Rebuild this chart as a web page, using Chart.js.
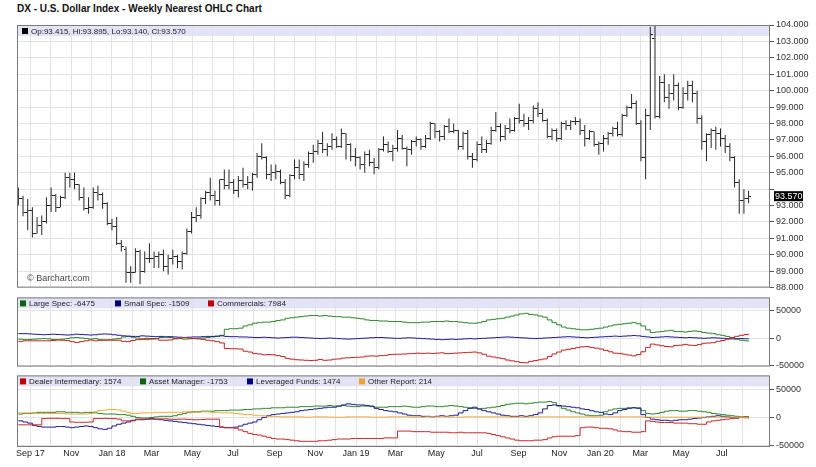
<!DOCTYPE html>
<html>
<head>
<meta charset="utf-8">
<script src="https://cdn.jsdelivr.net/npm/chart.js@4.4.1/dist/chart.umd.min.js"></script>
<style>
  body { margin: 0; background: #fff; width: 816px; height: 467px; overflow: hidden; font-family: "Liberation Sans", Arial, sans-serif; }
  #title { position: absolute; left: 17px; top: 3px; font-size: 10px; font-weight: bold; color: #111; }
  canvas { position: absolute; left: 0; }
</style>
</head>
<body>
<div id="title">DX - U.S. Dollar Index - Weekly Nearest OHLC Chart</div>
<canvas id="price" width="816" height="281" style="top:14px"></canvas>
<canvas id="cot" width="816" height="84" style="top:290px"></canvas>
<canvas id="tff" width="816" height="99" style="top:368px"></canvas>
<script>
// weekly bars, first week starts Mon 14 Aug 2017
const firstWeek = Date.UTC(2017, 7, 14)

const opens = [
  93.3, 93.4, 92.6, 92.7, 91.3, 91.8, 92.0, 93.0, 93.6, 92.9,
  93.5, 94.7, 94.6, 94.3, 93.5, 92.8, 92.9, 93.8, 93.7, 93.1,
  91.9, 91.7, 90.7, 90.3, 88.9, 88.9, 90.2, 89.0, 89.8, 89.8,
  89.9, 90.0, 89.3, 89.8, 89.9, 89.6, 90.1, 91.4, 92.3, 92.4,
  93.4, 93.8, 93.6, 93.3, 94.6, 94.2, 94.4, 93.9, 94.5, 94.3,
  94.4, 94.9, 96.0, 95.9, 94.9, 95.0, 95.1, 94.4, 93.6, 94.8,
  95.3, 94.9, 95.5, 96.2, 96.3, 96.8, 96.4, 96.6, 97.0, 96.6,
  97.4, 96.7, 96.0, 95.9, 95.5, 96.1, 95.6, 95.3, 96.4, 96.7,
  96.3, 96.5, 97.1, 96.5, 96.4, 96.9, 97.0, 96.6, 97.1, 98.0,
  97.5, 97.2, 97.8, 97.5, 97.6, 96.6, 97.4, 96.0, 95.8, 96.7,
  96.4, 96.8, 97.6, 97.8, 97.2, 97.7, 97.6, 98.3, 98.2, 98.0,
  98.2, 98.9, 98.6, 98.2, 97.2, 97.6, 97.1, 98.0, 97.9, 98.1,
  98.1, 97.6, 97.1, 97.5, 96.7, 96.8, 97.1, 97.4, 97.7, 97.3,
  98.5, 99.0, 99.2, 98.0, 95.9, 98.5, 103.2, 98.4, 100.5, 99.6,
  99.8, 100.3, 99.0, 99.8, 100.3, 99.8, 98.3, 96.9, 97.3, 97.6,
  97.4, 97.1, 96.6, 95.9, 94.4, 93.3, 93.415
]
const highs = [
  94.1, 93.6, 93.4, 92.9, 92.3, 92.4, 93.5, 94.1, 93.7, 93.6,
  95.0, 95.0, 95.0, 94.3, 94.1, 93.5, 94.1, 94.2, 93.8, 93.2,
  92.2, 92.3, 90.9, 90.5, 89.3, 90.4, 90.3, 90.2, 90.7, 90.2,
  90.2, 90.3, 90.0, 90.3, 90.0, 90.2, 91.6, 92.6, 92.9, 93.5,
  93.9, 94.7, 93.9, 94.6, 95.2, 95.2, 94.6, 94.8, 95.3, 94.8,
  95.0, 96.2, 96.8, 96.0, 95.5, 95.5, 95.2, 94.6, 94.9, 95.8,
  95.8, 95.7, 96.3, 96.7, 97.0, 97.5, 96.8, 97.4, 97.2, 97.7,
  97.4, 96.8, 96.5, 96.0, 96.3, 96.4, 95.9, 96.5, 97.2, 96.9,
  96.7, 97.6, 97.3, 96.6, 97.0, 97.2, 97.1, 97.3, 98.1, 98.0,
  97.6, 97.9, 98.3, 98.0, 97.6, 97.5, 97.6, 96.2, 96.9, 97.2,
  97.0, 97.8, 98.7, 98.0, 97.9, 98.3, 98.4, 99.2, 98.6, 98.4,
  99.1, 99.3, 98.9, 98.3, 97.7, 97.7, 98.1, 98.2, 98.2, 98.4,
  98.3, 97.9, 97.6, 97.5, 96.9, 97.3, 97.5, 97.8, 98.1, 98.6,
  99.1, 99.8, 99.4, 98.2, 98.9, 103.9, 104.0, 100.9, 101.0, 100.4,
  101.0, 100.5, 100.2, 100.6, 100.6, 100.0, 98.5, 97.4, 97.7, 97.8,
  97.7, 97.3, 96.8, 96.0, 94.6, 94.0, 93.895
]
const lows = [
  93.0, 92.35, 91.5, 91.05, 91.3, 91.2, 91.9, 92.6, 92.6, 92.9,
  93.4, 94.1, 94.0, 93.3, 92.7, 92.5, 92.8, 93.3, 92.8, 91.8,
  91.5, 90.6, 90.2, 88.3, 88.3, 88.9, 88.2, 88.9, 89.5, 89.2,
  89.2, 89.0, 88.8, 89.4, 89.2, 89.1, 90.0, 91.3, 92.0, 92.2,
  93.1, 93.3, 93.0, 93.0, 94.0, 94.0, 93.7, 93.5, 94.1, 94.0,
  93.9, 94.7, 95.8, 94.6, 94.5, 94.6, 94.3, 93.4, 93.5, 94.6,
  94.6, 94.5, 95.3, 95.6, 96.1, 96.2, 96.0, 96.4, 96.5, 96.5,
  95.8, 95.7, 95.4, 95.2, 95.0, 95.4, 94.9, 95.2, 96.3, 96.2,
  95.7, 96.3, 96.4, 95.4, 96.1, 96.6, 96.4, 96.5, 97.0, 97.1,
  96.9, 97.0, 97.4, 97.4, 96.4, 96.4, 95.8, 95.3, 95.7, 96.2,
  96.2, 96.7, 97.5, 96.9, 97.0, 97.4, 97.5, 98.0, 97.8, 97.6,
  98.0, 98.4, 98.1, 97.1, 97.0, 96.9, 97.0, 97.6, 97.6, 97.9,
  97.3, 96.6, 97.0, 96.6, 96.1, 96.3, 96.7, 97.2, 97.2, 97.2,
  98.4, 98.9, 97.9, 95.7, 94.6, 97.6, 98.3, 98.3, 99.3, 98.9,
  99.4, 98.8, 98.9, 99.4, 99.3, 98.0, 96.4, 95.7, 96.5, 96.4,
  96.6, 96.2, 95.7, 94.1, 92.5, 92.5, 93.14
]
const closes = [
  93.4, 92.6, 92.7, 91.3, 91.8, 92.0, 93.0, 93.6, 92.9, 93.5,
  94.7, 94.6, 94.3, 93.5, 92.8, 92.9, 93.8, 93.7, 93.1, 91.9,
  91.7, 90.7, 90.5, 88.9, 88.9, 90.2, 89.0, 89.8, 89.8, 89.9,
  90.0, 89.3, 89.8, 89.9, 89.6, 90.1, 91.4, 92.3, 92.4, 93.4,
  93.8, 93.6, 93.3, 94.6, 94.2, 94.4, 93.9, 94.5, 94.3, 94.4,
  94.9, 96.0, 95.9, 94.9, 95.0, 95.1, 94.4, 93.6, 94.8, 95.3,
  94.9, 95.5, 96.2, 96.3, 96.8, 96.4, 96.6, 97.0, 96.6, 97.4,
  96.7, 96.0, 95.9, 95.5, 96.1, 95.6, 95.3, 96.4, 96.7, 96.3,
  96.5, 97.1, 96.5, 96.4, 96.9, 97.0, 96.6, 97.1, 98.0, 97.5,
  97.2, 97.8, 97.5, 97.6, 96.6, 97.4, 96.0, 95.8, 96.7, 96.4,
  96.8, 97.6, 97.8, 97.2, 97.7, 97.6, 98.3, 98.2, 98.0, 98.2,
  98.9, 98.6, 98.2, 97.2, 97.6, 97.1, 98.0, 97.9, 98.1, 98.1,
  97.6, 97.1, 97.5, 96.7, 96.8, 97.1, 97.4, 97.7, 97.3, 98.5,
  99.0, 99.2, 98.0, 95.9, 98.5, 103.4, 98.4, 100.5, 99.6, 99.8,
  100.3, 99.0, 99.8, 100.3, 99.8, 98.3, 96.9, 97.3, 97.6, 97.4,
  97.1, 96.6, 95.9, 94.4, 93.3, 93.4, 93.57
]

// COT net positions, thousands of contracts, one value per week
const largeSpec = [
  -2, -3, -2.5, -2, -1.5, -1, -1.5, -2.5, -3, -2, -1, 0.5, 1, 0, -1, -2, -1, -3, -4, -3.5,
  -2, -1, 2, 3, 1.5, 0, -1.5, -3, -2, -1, 1, 2, 1, -0.5, -1, -2, -1.5, -1, -0.5, 0, 1, 2,
  3, 5, 16, 17, 17, 18, 22, 24, 27, 28, 29, 29, 30, 32, 33, 36, 37, 38, 39, 40, 41, 41,
  40, 41, 40, 39, 39, 38, 38, 37, 36,
  35, 33, 32, 32, 31, 31, 30, 30, 30, 29, 28, 28, 28, 29, 29, 30, 30, 30, 31, 30, 30,
  29, 28, 27, 27, 28, 30, 33, 34, 35, 36, 38, 40, 42, 44, 45, 43, 42, 40, 38, 33, 28, 24,
  20, 18, 17, 16, 15, 15, 16, 17, 18,
  20, 22, 24, 25, 26, 27, 28, 26, 22, 15, 10, 11, 12, 13, 14, 12, 12, 11, 12, 13, 12,
  10, 9, 8, 6, 5, 3, 1, -2, -4, -5, -6.475
]
const smallSpec = [
  8, 8, 7.5, 7, 6.5, 6, 6.5, 7, 6.5, 6, 5.5, 6, 7, 6.5, 6, 5.5, 6, 7, 7.5, 7,
  6, 5, 4, 3.5, 3, 3, 4, 3.5, 3, 2.5, 3, 2, 2.5, 2, 1.5, 1, 1.5, 2, 2, 2.5, 3, 3,
  3.5, 4, 3, 2.5, 2.5, 2, 2, 1.5, 1, 1, 1.5, 1, 0.5, 0, 0.5, 1, 1.5, 1.5, 1, 0.5, 0, -0.5,
  -1, -0.5, 0, -0.5, -1, -1.5, -2, -1.5, -1,
  -0.5, 0, 0.5, 1, 1, 0.5, 0, -0.5, -0.5, 0, 0.5, 0, -0.5, -1, -1.5, -2, -2.5, -3, -2.5, -2, -2.5,
  -2, -1.5, -1, -1.5, -1, -0.5, 0, 0.5, 1, 1.5, 2, 1.5, 1, 0.5, 0, -0.5, -1, -0.5, 0, 0.5, 1, 1.5,
  2, 2.5, 2, 1.5, 1, 0.5, 1, 1.5, 2,
  2.5, 3, 3.5, 3, 3.5, 4, 4.5, 4, 3, 2, 1, 1.5, 2, 2.5, 2, 1.5, 1, 0.5, 1, 0.5, 0,
  -0.5, 0, 0.5, 0, -0.5, -1, -1.5, -1.2, -1, -1.3, -1.509
]
const commercials = [
  -6, -5, -5, -5, -5, -5, -5, -4.5, -3.5, -4, -4.5, -6.5, -8, -6.5, -5, -3.5, -5, -4, -3.5, -3.5,
  -4, -4, -6, -6.5, -4.5, -3, -2.5, -0.5, -1, -1.5, -4, -4, -3.5, -1.5, -0.5, 1, 0, -1, -1.5, -2.5, -4, -5,
  -6.5, -9, -19, -19.5, -19.5, -20, -24, -25.5, -28, -29, -30.5, -30, -30.5, -32, -33.5, -37, -38.5,
  -39.5, -40, -40.5, -41, -40.5, -39, -40.5, -40, -38.5, -38, -36.5, -36, -35.5, -35,
  -34.5, -33, -32.5, -33, -32, -31.5, -30, -29.5, -29.5, -29, -28.5, -28, -27.5, -28, -27.5, -28, -27.5,
  -27, -28.5, -28, -27.5, -27, -26.5, -26, -25.5, -27, -29.5, -33, -34.5, -36, -37.5, -40, -41.5, -43,
  -44.5, -45, -42.5, -41, -39.5, -38, -33.5, -29, -25.5, -22, -20.5, -19, -17.5, -16, -15.5, -17, -18.5, -20,
  -22.5, -25, -27.5, -28, -29.5, -31, -32.5, -30, -25, -17, -11, -12.5, -14, -15.5, -16, -13.5, -13,
  -11.5, -13, -13.5, -12, -9.5, -9, -8.5, -6, -4.5, -2, 0.5, 3.2, 5, 6.3, 7.984
]
const dealer = [
  -13, -13, -13, -13, -13, -2, -1.5, -1.5, -1.5, -2, -2, -8, -8.5, -8.5, -8.5, -8, -2, -2, -1.5, -2,
  -2, -3, -6, -6, -6, -4, -3, -3, -3, -3, -2.5, -2.5, -3, -3.5, -3, -3, -3.5, -4, -4, -3.5, -3, -3,
  -3, -17, -18, -18, -19, -22, -25, -28, -30, -31, -33, -35, -37, -38, -38, -39, -40,
  -41, -42, -42, -42, -42, -41, -41, -40, -39, -38, -38, -38, -37, -37,
  -37, -37, -37, -37, -37, -36, -36, -36, -24, -24, -24, -25, -25, -25, -25, -26, -26,
  -26, -26, -27, -27, -26, -27, -27, -27, -27, -27, -28, -30, -32, -34, -36, -38, -40,
  -41, -41, -41, -40, -40, -39, -36, -34, -33, -33, -33, -33, -32, -18, -17, -17, -18, -19,
  -19, -20, -22, -24, -25, -25, -26, -26, -25, -6, -7, -8, -9, -9, -9, -10, -10,
  -10, -11, -11, -12, -12, -8, -6, -5, -4, -3, -2, -1, 0, 1, 1.574
]
const assetMgr = [
  6, 7, 7, 8, 9, 9, 9, 9, 10, 10, 9, 9, 9, 8, 9, 9, 8, 7, 6, 6,
  6, 5, 5, 4, 2, 0, -1, -1, 0, 1, 2, 2, 2, 3, 5, 7, 9, 10, 10, 11, 11, 11,
  12, 12, 12, 13, 13, 13, 14, 14, 15, 15, 16, 16, 17, 17, 17, 18, 18,
  18, 19, 19, 19, 20, 20, 20, 21, 20, 20, 21, 20, 19, 19,
  20, 20, 19, 18, 18, 18, 19, 19, 19, 20, 19, 18, 18, 19, 20, 20, 19, 19, 20, 21, 20,
  19, 18, 17, 16, 15, 16, 17, 18, 19, 21, 23, 24, 25, 25, 24, 25, 26, 27, 27, 28, 26, 20,
  16, 13, 10, 8, 6, 4, 3, 3, 4,
  10, 13, 15, 16, 16, 17, 17, 17, 12, 7, 6, 7, 9, 11, 12, 12, 11, 11, 12, 12, 11,
  10, 9, 7, 6, 5, 4, 3, 2, 1, -0.5, -1.753
]
const levFunds = [
  -6, -8, -10, -14, -16, -17, -17, -17, -16, -16, -17, -18, -17, -16, -15, -16, -18, -20, -21, -19,
  -15, -12, -10, -8, -5, -3, -4, -3, -2, -3, -4, -5, -6, -7, -8, -9, -10, -11, -12, -13, -14, -15,
  -16, -17, -18, -18, -17, -15, -12, -10, -8, -4, 0, 3, 5, 6, 7, 8, 9,
  10, 12, 13, 14, 15, 16, 17, 18, 18, 20, 22, 24, 23, 22,
  22, 21, 20, 16, 14, 12, 11, 10, 8, 6, 4, 3, 3, 2, 2, 1, 2, 3, 2, 3, 4,
  8, 12, 16, 18, 15, 12, 10, 8, 6, 4, 3, 2, 2, 3, 2, 3, 5, 8, 15, 21, 22, 21,
  20, 19, 18, 17, 15, 14, 12, 10, 9,
  6, 5, 8, 12, 14, 16, 17, 16, 5, 0, -3, -4, -5, -5, -6, -5, -4, -4, -3, -2, -1,
  0, 1, 2, 3, 2, 1, 0, -1, 0, 1, 1.474
]
const otherRpt = [
  8, 8, 8, 8, 7, 7, 7, 7, 7, 7, 6, 6, 6, 6, 6, 7, 10, 12, 13, 14,
  14, 13, 11, 9, 7, 7, 8, 8, 8, 9, 9, 9, 9, 9, 9, 10, 10, 9, 9, 10, 10, 9,
  9, 8, 8, 8, 7, 6, 5, 5, 4, 3, 3, 2, 2, 1.5, 1, 1, 1,
  1, 1, 0.5, 0.5, 1, 1, 1, 0.5, 0.5, 0.5, 0.5, 1, 1, 1,
  1, 1, 0.5, 0.5, 0.5, 0.5, 1, 1, 1, 1, 1, 0.5, 0.5, 0.5, 1, 1, 1, 1, 1, 0.5, 0.5,
  0.5, 1, 1, 1, 1, 1, 1, 1, 1, 1, 1, 0.5, 0.5, 0.5, 0.5, 1, 1, 1, 1, 1, 1, 1,
  1, 1, 1, 1, 1, 1, 1, 1, 1,
  1, 1, 1, 1, 1, 1, 1, 1, 1, 0.5, 0.5, 0.5, 0.5, 0.5, 0.5, 0.5, 0.5, 0.5, 0.5, 0.5, 0.5,
  0.5, 0.5, 0.5, 0.5, 0.5, 0.5, 0.5, 0.3, 0.3, 0.2, 0.214
]

const priceTicks = [88, 89, 90, 91, 92, 93, 94, 95, 96, 97, 98, 99, 100, 101, 102, 103, 104]
const cotTicks = [-50, 0, 50]
const monthNames = ["Jan", "Feb", "Mar", "Apr", "May", "Jun", "Jul", "Aug", "Sep", "Oct", "Nov", "Dec"]

const DAY = 86400000
const days = opens.map((_, i) => i * 7)
const last = opens.length - 1

// one grid line per month, label on every other month
const months = []
for (let y = 2017, m = 8; y < 2020 || m <= 7; ) {
  months.push({ value: (Date.UTC(y, m, 1) - firstWeek) / DAY, y, m })
  if (++m > 11) { m = 0; y++ }
}
const monthLabel = (t, i) => {
  if (t.m % 2 !== 0) return ""
  if (i === 0 || t.m === 0) return `${monthNames[t.m]} ${String(t.y).slice(2)}`
  return monthNames[t.m]
}

const FONT = '"Liberation Sans", Arial, sans-serif'
Chart.defaults.font.family = FONT
Chart.defaults.color = "#333"

// open tick on the left, close tick on the right of each high-low bar
function tickImage(side) {
  const c = document.createElement("canvas")
  c.width = 5; c.height = 1
  const g = c.getContext("2d")
  g.fillStyle = "#222"
  g.fillRect(side === "left" ? 0 : 3, 0, 2, 1)
  return c
}

const panelDecor = {
  id: "panelDecor",
  beforeDraw(chart) {
    const { ctx, chartArea: a } = chart
    ctx.save()
    ctx.fillStyle = "#e3e3f8"
    ctx.fillRect(a.left, a.top, a.right - a.left, 11)
    ctx.restore()
  },
  afterDraw(chart, args, opts) {
    const { ctx, chartArea: a } = chart
    ctx.save()
    ctx.strokeStyle = "#7a7a7a"
    ctx.lineWidth = 1
    ctx.strokeRect(a.left + 0.5, a.top + 0.5, a.right - a.left - 1, a.bottom - a.top - 1)
    ctx.font = `8px ${FONT}`
    ctx.textBaseline = "middle"
    const y = a.top + 6
    for (const it of opts.items || []) {
      ctx.fillStyle = it.color
      ctx.fillRect(it.x, y - 3, 6, 6)
      ctx.fillStyle = "#222"
      ctx.fillText(it.text, it.x + 9, y + 0.5)
    }
    if (opts.lastPrice != null) {
      const py = chart.scales.y.getPixelForValue(opts.lastPrice)
      ctx.fillStyle = "#000"
      ctx.fillRect(a.right + 4, py - 5, 29, 10)
      ctx.fillStyle = "#fff"
      ctx.font = `9px ${FONT}`
      ctx.fillText(opts.lastPrice.toFixed(3), a.right + 5, py + 0.5)
    }
    if (opts.credit) {
      ctx.fillStyle = "#444"
      ctx.font = `9px ${FONT}`
      ctx.fillText(opts.credit, a.left + 10, a.bottom - 9)
    }
    ctx.restore()
  }
}

function xScale(showLabels) {
  return {
    type: "linear",
    min: -2,
    max: 1124,
    offset: false,
    afterBuildTicks: (s) => { s.ticks = months.map((t) => ({ value: t.value })) },
    afterFit: (s) => { s.height = showLabels ? 20 : 0 },
    border: { display: false },
    grid: { color: "#e2e2e2", drawTicks: false, offset: false },
    ticks: {
      display: showLabels,
      autoSkip: false,
      maxRotation: 0,
      padding: 1,
      color: "#222",
      font: { size: 9 },
      callback: (v, i) => monthLabel(months[i], i)
    }
  }
}

function yScale(min, max, tickValues, label) {
  return {
    position: "right",
    min, max,
    afterBuildTicks: (s) => { s.ticks = tickValues.map((v) => ({ value: v })) },
    afterFit: (s) => { s.width = 46 },
    border: { display: false },
    grid: { color: "#e2e2e2", tickColor: "#555", tickLength: 4 },
    ticks: { autoSkip: false, padding: 2, color: "#333", font: { size: 9 }, callback: label }
  }
}

const common = { responsive: false, animation: false, events: [] }

new Chart(document.getElementById("price"), {
  type: "bar",
  data: {
    datasets: [
      {
        type: "bar",
        data: days.map((d, i) => ({ x: d, y: [lows[i], highs[i]] })),
        backgroundColor: "#262626",
        borderWidth: 0,
        barThickness: 1,
        inflateAmount: 0,
        grouped: false
      },
      {
        type: "line",
        data: days.map((d, i) => ({ x: d, y: opens[i] })),
        showLine: false,
        pointStyle: tickImage("left"),
        pointRadius: 3
      },
      {
        type: "line",
        data: days.map((d, i) => ({ x: d, y: closes[i] })),
        showLine: false,
        pointStyle: tickImage("right"),
        pointRadius: 3
      }
    ]
  },
  options: {
    ...common,
    layout: { padding: { left: 17, right: 0, top: 11, bottom: 3 } },
    plugins: {
      legend: { display: false },
      tooltip: { enabled: false },
      panelDecor: {
        items: [{
          x: 22, color: "#000",
          text: `Op:${opens[last].toFixed(3)}, Hi:${highs[last].toFixed(3)}, Lo:${lows[last].toFixed(3)}, Cl:${closes[last].toFixed(3)}`
        }],
        lastPrice: closes[last],
        credit: "\u00A9 Barchart.com"
      }
    },
    scales: {
      x: xScale(false),
      // the label nearest the last-price box is left out
      y: yScale(88, 104, priceTicks, (v) => Math.abs(v - closes[last]) < 0.5 ? "" : v.toFixed(3))
    }
  },
  plugins: [panelDecor]
})

const thousands = (v) => String(v * 1000)
const stepLine = (values, color) => ({
  data: days.map((d, i) => ({ x: d, y: values[i] })),
  borderColor: color,
  borderWidth: 1,
  stepped: true,
  pointRadius: 0,
  fill: false
})
const lastK = (values) => Math.round(values[last] * 1000)

new Chart(document.getElementById("cot"), {
  type: "line",
  data: {
    datasets: [
      stepLine(commercials, "#c82020"),
      stepLine(smallSpec, "#1c1c96"),
      stepLine(largeSpec, "#2a862a")
    ]
  },
  options: {
    ...common,
    layout: { padding: { left: 17, right: 0, top: 6, bottom: 5 } },
    plugins: {
      legend: { display: false },
      tooltip: { enabled: false },
      panelDecor: {
        items: [
          { x: 20, color: "#0b650b", text: `Large Spec: ${lastK(largeSpec)}` },
          { x: 115, color: "#000080", text: `Small Spec: ${lastK(smallSpec)}` },
          { x: 208, color: "#c00000", text: `Commercials: ${lastK(commercials)}` }
        ]
      }
    },
    scales: { x: xScale(false), y: yScale(-52, 74, cotTicks, thousands) }
  },
  plugins: [panelDecor]
})

new Chart(document.getElementById("tff"), {
  type: "line",
  data: {
    datasets: [
      stepLine(otherRpt, "#f2a73c"),
      stepLine(dealer, "#c82828"),
      stepLine(levFunds, "#1e1e92"),
      stepLine(assetMgr, "#2a862a")
    ]
  },
  options: {
    ...common,
    layout: { padding: { left: 17, right: 0, top: 5, bottom: 0 } },
    plugins: {
      legend: { display: false },
      tooltip: { enabled: false },
      panelDecor: {
        items: [
          { x: 20, color: "#c00000", text: `Dealer Intermediary: ${lastK(dealer)}` },
          { x: 140, color: "#0b650b", text: `Asset Manager: ${lastK(assetMgr)}` },
          { x: 247, color: "#000080", text: `Leveraged Funds: ${lastK(levFunds)}` },
          { x: 359, color: "#f0a030", text: `Other Report: ${lastK(otherRpt)}` }
        ]
      }
    },
    scales: { x: xScale(true), y: yScale(-52, 74, cotTicks, thousands) }
  },
  plugins: [panelDecor]
})
</script>
</body>
</html>
